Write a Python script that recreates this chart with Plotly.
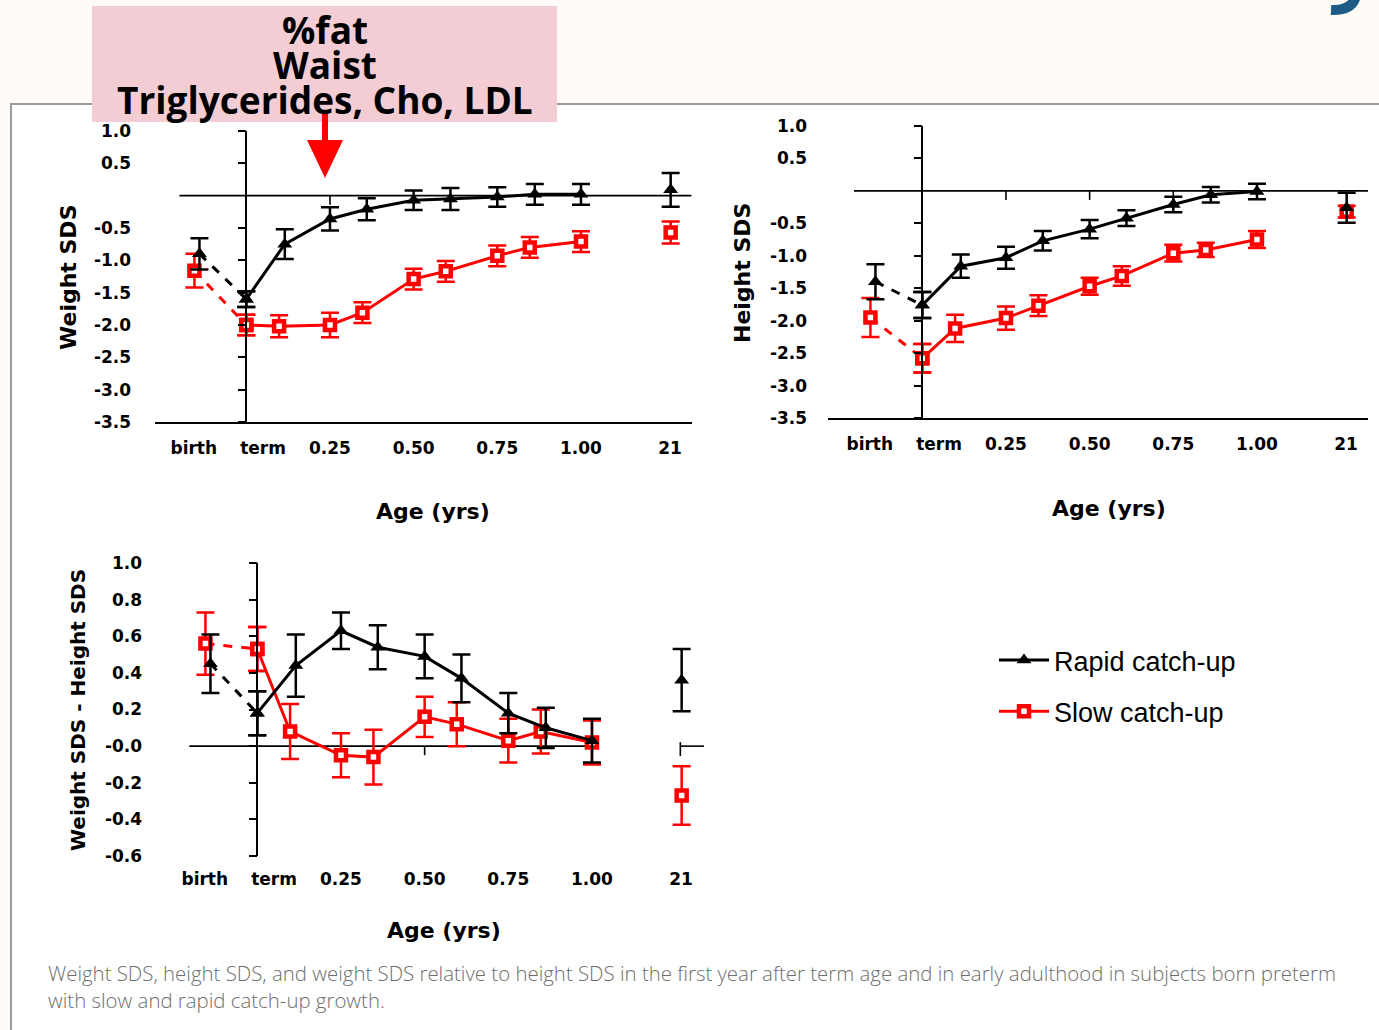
import plotly.graph_objects as go

W, H = 1379, 1030

# ---------------- data ----------------
age_labels = ["birth", "term", "0.25", "0.50", "0.75", "1.00", "21"]
age_label_pos = [-0.157, 0.05, 0.25, 0.50, 0.75, 1.00, 1.266]

ages_rapid = [-0.14, 0.0, 0.115, 0.25, 0.36, 0.50, 0.61, 0.75, 0.862, 1.00]
ages_slow = [-0.155, 0.0, 0.098, 0.25, 0.347, 0.50, 0.596, 0.75, 0.847, 1.00]
age_adult = 1.268

# Weight SDS
rapid_w = [-0.90, -1.60, -0.75, -0.36, -0.21, -0.07, -0.05, -0.02, 0.02, 0.02]
rapid_w_err = [0.24, 0.12, 0.23, 0.18, 0.17, 0.15, 0.17, 0.15, 0.16, 0.16]
rapid_w_adult, rapid_w_adult_err = 0.09, 0.26
slow_w = [-1.16, -2.00, -2.02, -2.00, -1.81, -1.29, -1.17, -0.93, -0.80, -0.71]
slow_w_err = [0.26, 0.16, 0.17, 0.19, 0.16, 0.16, 0.16, 0.16, 0.16, 0.16]
slow_w_adult, slow_w_adult_err = -0.57, 0.17

# Height SDS
rapid_h = [-1.40, -1.76, -1.16, -1.03, -0.77, -0.59, -0.42, -0.21, -0.06, -0.01]
rapid_h_err = [0.27, 0.20, 0.18, 0.17, 0.15, 0.14, 0.12, 0.12, 0.12, 0.12]
rapid_h_adult, rapid_h_adult_err = -0.26, 0.23
slow_h = [-1.95, -2.58, -2.12, -1.96, -1.77, -1.47, -1.31, -0.96, -0.91, -0.75]
slow_h_err = [0.30, 0.22, 0.21, 0.18, 0.16, 0.13, 0.15, 0.13, 0.11, 0.13]
slow_h_adult, slow_h_adult_err = -0.32, 0.09

# Weight SDS - Height SDS
rapid_d = [0.45, 0.18, 0.44, 0.63, 0.54, 0.49, 0.37, 0.18, 0.10, 0.03]
rapid_d_err = [0.16, 0.12, 0.17, 0.10, 0.12, 0.12, 0.13, 0.11, 0.11, 0.12]
rapid_d_adult, rapid_d_adult_err = 0.36, 0.17
slow_d = [0.56, 0.53, 0.08, -0.05, -0.06, 0.16, 0.12, 0.03, 0.08, 0.02]
slow_d_err = [0.17, 0.12, 0.15, 0.12, 0.15, 0.11, 0.12, 0.12, 0.12, 0.12]
slow_d_adult, slow_d_adult_err = -0.27, 0.16

yticks_top = [1.0, 0.5, -0.5, -1.0, -1.5, -2.0, -2.5, -3.0, -3.5]
yticks_top_txt = ["1.0", "0.5", "-0.5", "-1.0", "-1.5", "-2.0", "-2.5", "-3.0", "-3.5"]
yticks_bot = [1.0, 0.8, 0.6, 0.4, 0.2, 0.0, -0.2, -0.4, -0.6]
yticks_bot_txt = ["1.0", "0.8", "0.6", "0.4", "0.2", "-0.0", "-0.2", "-0.4", "-0.6"]
zero_ticks = [0.25, 0.50, 0.75, 1.00]

caption1 = ("Weight SDS, height SDS, and weight SDS relative to height SDS in the first year "
            "after term age and in early adulthood in subjects born preterm")
caption2 = "with slow and rapid catch-up growth."
box_lines = ["%fat", "Waist", "Triglycerides, Cho, LDL"]

# ---------------- styling helpers ----------------
RED = "#ff0000"
BLACK = "#000000"
TICKFONT = dict(family="DejaVu Sans", size=17, color="black", weight="bold")
TITLEFONT = dict(family="DejaVu Sans", size=22, color="black", weight="bold")


def px(xp):
    return xp / W


def py(yp):
    return 1 - yp / H


fig = go.Figure()


def series(xa, suf, vals, errs, adult, adult_err, color, symbol, mcolor, name, show_legend, rank):
    if symbol == "square":
        marker = dict(symbol=symbol, size=10, color=mcolor, line=dict(color=color, width=4.5))
    else:
        marker = dict(symbol=symbol, size=13, color=mcolor, line=dict(width=0))
    eb = dict(type="data", visible=True, color=color, thickness=2.5, width=9)
    fig.add_trace(go.Scatter(x=xa[:2], y=vals[:2], mode="lines+markers",
                             line=dict(color=color, width=3, dash="dash"), marker=marker,
                             error_y=dict(eb, array=errs[:2]), xaxis="x" + suf, yaxis="y" + suf,
                             showlegend=False, hoverinfo="skip"))
    fig.add_trace(go.Scatter(x=xa[1:], y=vals[1:], mode="lines+markers", name=name,
                             line=dict(color=color, width=3), marker=marker,
                             error_y=dict(eb, array=errs[1:]), xaxis="x" + suf, yaxis="y" + suf,
                             showlegend=show_legend, legendrank=rank, legendgroup=name))
    fig.add_trace(go.Scatter(x=[age_adult], y=[adult], mode="markers", marker=marker,
                             error_y=dict(eb, array=[adult_err]), xaxis="x" + suf, yaxis="y" + suf,
                             showlegend=False, hoverinfo="skip"))


panels = [
    ("", slow_w, slow_w_err, slow_w_adult, slow_w_adult_err, rapid_w, rapid_w_err, rapid_w_adult, rapid_w_adult_err),
    ("2", slow_h, slow_h_err, slow_h_adult, slow_h_adult_err, rapid_h, rapid_h_err, rapid_h_adult, rapid_h_adult_err),
    ("3", slow_d, slow_d_err, slow_d_adult, slow_d_adult_err, rapid_d, rapid_d_err, rapid_d_adult, rapid_d_adult_err),
]
for i, (suf, sv, se, sa, sae, rv, re_, ra, rae) in enumerate(panels):
    series(ages_slow, suf, sv, se, sa, sae, RED, "square", "white", "Slow catch-up", i == 0, 2)
    series(ages_rapid, suf, rv, re_, ra, rae, BLACK, "triangle-up", BLACK, "Rapid catch-up", i == 0, 1)

# panel geometry (pixels)
geo = {
    "": dict(x0=155, x1=692, term=246.3, y0=131, y1=422, yr=[-3.5, 1.0], bottom=True),
    "2": dict(x0=828, x1=1368, term=922.3, y0=126, y1=418, yr=[-3.5, 1.0], bottom=True),
    "3": dict(x0=165, x1=710, term=257.3, y0=563, y1=856, yr=[-0.6, 1.0], bottom=False),
}
SC = 334.67
layout_axes = {}
for suf, g in geo.items():
    xr = [(g["x0"] - g["term"]) / SC, (g["x1"] - g["term"]) / SC]
    layout_axes["xaxis" + suf] = dict(
        domain=[px(g["x0"]), px(g["x1"])], range=xr, anchor="y" + suf,
        showline=g["bottom"], linecolor="black", linewidth=1.6, mirror=False,
        tickmode="array", tickvals=age_label_pos, ticktext=age_labels, ticks="",
        ticklabelstandoff=10 if g["bottom"] else 11, tickfont=TICKFONT,
        showgrid=False, zeroline=False, fixedrange=True)
    layout_axes["yaxis" + suf] = dict(
        domain=[py(g["y1"]), py(g["y0"])], range=g["yr"], anchor="free", position=px(g["term"]),
        showline=True, linecolor="black", linewidth=1.6, ticks="outside", ticklen=8, tickwidth=1.6,
        tickcolor="black", tickmode="array",
        tickvals=yticks_top if suf != "3" else yticks_bot,
        ticktext=yticks_top_txt if suf != "3" else yticks_bot_txt,
        ticklabelstandoff=103, tickfont=TICKFONT, showgrid=False, zeroline=False, fixedrange=True)

shapes = []
# background: off-white slide, white content panel with grey border
shapes.append(dict(type="rect", xref="paper", yref="paper", x0=0, x1=1, y0=0, y1=1,
                   fillcolor="#fffcf8", line=dict(width=0), layer="below"))
shapes.append(dict(type="rect", xref="paper", yref="paper", x0=px(11), x1=1.01, y0=-0.01, y1=py(104),
                   fillcolor="white", line=dict(color="#9a9a9a", width=2), layer="below"))
# fragment of slide-title glyph at top right
shapes.append(dict(type="path", xref="paper", yref="paper",
                   path=f"M {px(1356)} {py(-4)} Q {px(1352)} {py(11)} {px(1331)} {py(10)}",
                   line=dict(color="#1d5a85", width=10), layer="below"))

# zero lines
for suf, segs in [("", [(-0.2, 1.33)]), ("2", [(-0.204, 1.332)]), ("3", [(-0.203, 1.01), (1.264, 1.335)])]:
    for a, b in segs:
        shapes.append(dict(type="line", xref="x" + suf, yref="y" + suf, x0=a, x1=b, y0=0, y1=0,
                           line=dict(color="black", width=1.6), layer="below"))
    for tv in zero_ticks:
        shapes.append(dict(type="line", xref="x" + suf, yref="y" + suf, x0=tv, x1=tv,
                           ysizemode="pixel", yanchor=0, y0=0, y1=-9,
                           line=dict(color="black", width=1.6), layer="below"))
shapes.append(dict(type="line", xref="x3", yref="y3", x0=1.264, x1=1.264,
                   ysizemode="pixel", yanchor=0, y0=4, y1=-10,
                   line=dict(color="black", width=1.6), layer="below"))

# pink annotation box and arrow
shapes.append(dict(type="rect", xref="paper", yref="paper", x0=px(92), x1=px(557), y0=py(122), y1=py(6),
                   fillcolor="#f3cdd3", line=dict(width=0), layer="above"))
shapes.append(dict(type="rect", xref="paper", yref="paper", x0=px(322), x1=px(328), y0=py(142), y1=py(113),
                   fillcolor=RED, line=dict(width=0), layer="above"))
shapes.append(dict(type="path", xref="paper", yref="paper",
                   path=f"M {px(307)} {py(140)} L {px(343)} {py(140)} L {px(325)} {py(178)} Z",
                   fillcolor=RED, line=dict(width=0), layer="above"))

annotations = []
for txt, yc in zip(box_lines, [30, 65, 100]):
    annotations.append(dict(text=txt, x=px(325), y=py(yc), xref="paper", yref="paper", showarrow=False,
                            xanchor="center", yanchor="middle",
                            font=dict(family="Open Sans", size=37, color="black", weight="bold")))

# axis titles
for txt, xc, yc, ang, sz in [("Weight SDS", 68, 278, -90, 22), ("Height SDS", 742, 273, -90, 22),
                             ("Weight SDS - Height SDS", 78, 710, -90, 20),
                             ("Age (yrs)", 433, 511, 0, 22), ("Age (yrs)", 1109, 508, 0, 22),
                             ("Age (yrs)", 444, 930, 0, 22)]:
    annotations.append(dict(text=txt, x=px(xc), y=py(yc), xref="paper", yref="paper", showarrow=False,
                            xanchor="center", yanchor="middle", textangle=ang,
                            font=dict(TITLEFONT, size=sz)))

# caption
for txt, yc in [(caption1, 973), (caption2, 1000)]:
    annotations.append(dict(text=txt, x=px(46), y=py(yc), xref="paper", yref="paper", showarrow=False,
                            xanchor="left", yanchor="middle",
                            font=dict(family="Open Sans", size=20.4, color="#6e6e6e", weight=300)))

fig.update_layout(
    width=W, height=H, margin=dict(l=0, r=0, t=0, b=0, autoexpand=False),
    paper_bgcolor="white", plot_bgcolor="rgba(0,0,0,0)",
    shapes=shapes, annotations=annotations,
    legend=dict(x=px(994), y=py(636), xanchor="left", yanchor="top",
                font=dict(family="Liberation Sans", size=27, color="black"),
                bgcolor="rgba(0,0,0,0)", tracegroupgap=13, itemwidth=50),
    showlegend=True,
    **layout_axes,
)

fig.write_html("out.html", post_script="document.body.style.margin='0';")
